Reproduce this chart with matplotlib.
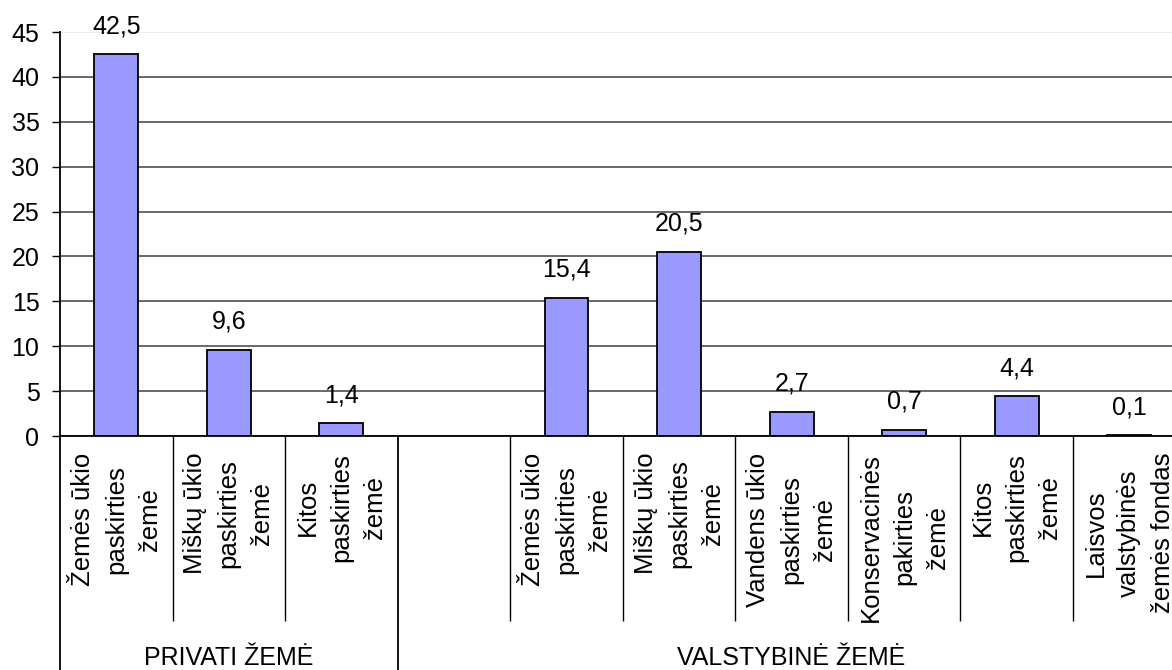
import numpy as np
import matplotlib
matplotlib.use("Agg")
import matplotlib.pyplot as plt

plt.rcParams['font.family'] = ['Liberation Sans', 'DejaVu Sans']

categories = [
    "Žemės ūkio\npaskirties\nžemė",
    "Miškų ūkio\npaskirties\nžemė",
    "Kitos\npaskirties\nžemė",
    "",
    "Žemės ūkio\npaskirties\nžemė",
    "Miškų ūkio\npaskirties\nžemė",
    "Vandens ūkio\npaskirties\nžemė",
    "Konservacinės\npakirties\nžemė",
    "Kitos\npaskirties\nžemė",
    "Laisvos\nvalstybinės\nžemės fondas",
]
values = [42.5, 9.6, 1.4, np.nan, 15.4, 20.5, 2.7, 0.7, 4.4, 0.1]
groups = ["PRIVATI ŽEMĖ", "VALSTYBINĖ ŽEMĖ"]
group_sizes = [3, 7]
yticks = [0, 5, 10, 15, 20, 25, 30, 35, 40, 45]

W, H = 1172, 670
fig = plt.figure(figsize=(W / 100, H / 100), dpi=100)
ax = fig.add_axes([60 / W, 1 - 436 / H, (1185.5 - 60) / W, (436 - 32) / H])

x = np.arange(len(categories))
bars = ax.bar(x, values, width=0.39, color='#9999ff', edgecolor='black',
              linewidth=1.3, zorder=3)
labels = ["" if np.isnan(v) else f"{v:.1f}".replace('.', ',') for v in values]
ax.bar_label(bars, labels=labels, padding=11.5, fontsize=18)

ax.set_xlim(-0.5, len(categories) - 0.5)
ax.set_ylim(0, 45)
ax.set_yticks(yticks)
ax.tick_params(axis='y', direction='out', length=5.8, width=1, pad=9,
               labelsize=18, colors='black')
ax.yaxis.grid(True, color='#404040', linewidth=1.1, zorder=0)
ax.set_axisbelow(True)
ax.get_ygridlines()[-1].set_color('#e6e6e6')

ax.set_xticks(x)
ax.set_xticklabels(categories, rotation=90, ha='center', va='top',
                   multialignment='center', linespacing=1.5, fontsize=18.5)
ax.tick_params(axis='x', length=0, pad=12)

# minor ticks as category separators, except at group boundaries
bounds = np.cumsum(group_sizes)[:-1]
sep = [i - 0.5 for i in range(1, len(categories)) if i not in bounds]
ax.set_xticks(sep, minor=True)
ax.tick_params(axis='x', which='minor', direction='out', length=133, width=1,
               color='black')

for s in ['top', 'right']:
    ax.spines[s].set_visible(False)
ax.spines['left'].set_linewidth(1.3)
ax.spines['bottom'].set_linewidth(1.3)
ax.spines['left'].set_zorder(4)
ax.spines['bottom'].set_zorder(4)

tr = ax.get_xaxis_transform()
edges = np.concatenate([[0], np.cumsum(group_sizes)]) - 0.5
for e in edges:
    ax.plot([e, e], [0, -0.8], transform=tr, color='black', linewidth=1.3,
            clip_on=False, zorder=4)

base_y = -(665 - 436) / (436 - 32)
start = 0
for g, n in zip(groups, group_sizes):
    cx = start + n / 2 - 0.5
    ax.text(cx, base_y, g, transform=tr, ha='center', va='baseline',
            fontsize=18)
    start += n

fig.savefig("out.png", dpi=100)
